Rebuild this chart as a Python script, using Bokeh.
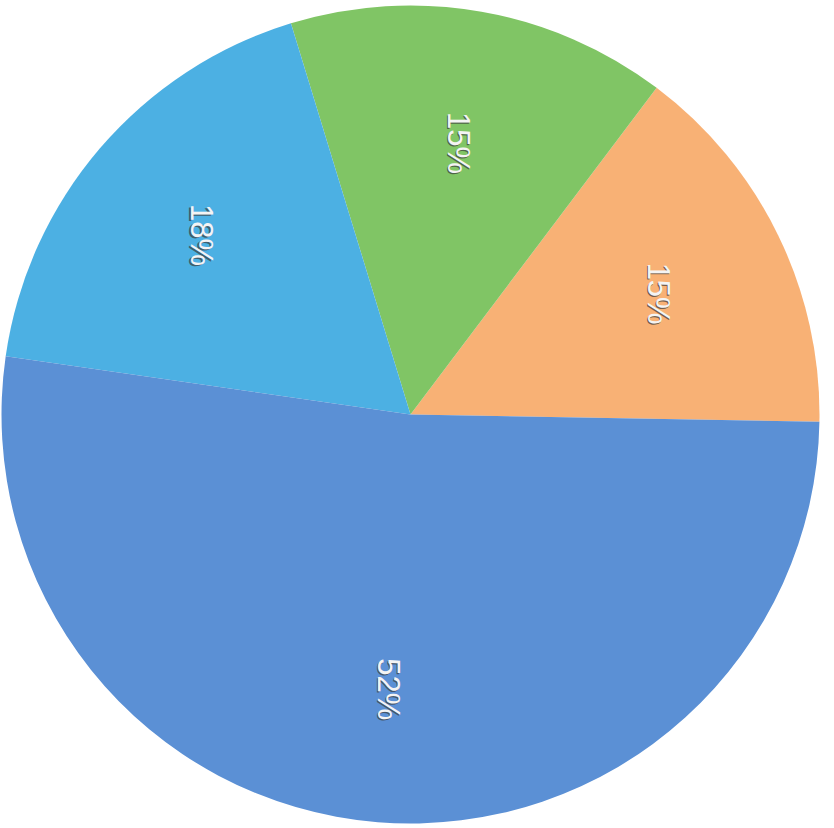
import math
from bokeh.plotting import figure
from bokeh.models import Range1d, ColumnDataSource
from bokeh.core.properties import value
from bokeh.embed import file_html
from bokeh.resources import INLINE

# Data (anticlockwise order starting from the right)
categories = ["Orange", "Green", "Light blue", "Blue"]
shares = [15, 15, 18, 52]
labels = ["15%", "15%", "18%", "52%"]
colors = ["#f8b175", "#80c565", "#4cb0e3", "#5b90d5"]

W, H = 830, 824
R = 409
cx, cy = 410, 414  # pixel position of centre inside the figure
offset = math.radians(-1.0)

total = sum(shares)
starts, ends, mids = [], [], []
acc = 0.0
for s in shares:
    a0 = offset + 2 * math.pi * acc / total
    acc += s
    a1 = offset + 2 * math.pi * acc / total
    starts.append(a0)
    ends.append(a1)
    mids.append((a0 + a1) / 2)

lr = 0.674 * R
lx = [lr * math.cos(m) for m in mids]
ly = [lr * math.sin(m) for m in mids]

src = ColumnDataSource(dict(cat=categories, start=starts, end=ends, color=colors,
                            x=lx, y=ly, label=labels))

p = figure(width=W, height=H, output_backend="svg", toolbar_location=None,
           x_range=Range1d(-cx, W - cx), y_range=Range1d(cy - H, cy),
           min_border=0)
p.axis.visible = False
p.grid.visible = False
p.outline_line_color = None
p.background_fill_color = "white"
p.border_fill_color = "white"

p.wedge(x=0, y=0, radius=R, start_angle="start", end_angle="end",
        fill_color="color", line_color=None, source=src)

p.text(x="x", y="y", text="label", source=src, angle=-math.pi / 2,
       x_offset=-1.2, y_offset=1.2,
       text_font=value("Liberation Sans"), text_font_size="31px",
       text_align="center", text_baseline="middle",
       text_color="#3a3a3a", text_alpha=0.7)
p.text(x="x", y="y", text="label", source=src, angle=-math.pi / 2,
       text_font=value("Liberation Sans"), text_font_size="31px",
       text_align="center", text_baseline="middle",
       text_color="#f4f4f4")

open("out.html", "w").write(file_html(p, INLINE))
